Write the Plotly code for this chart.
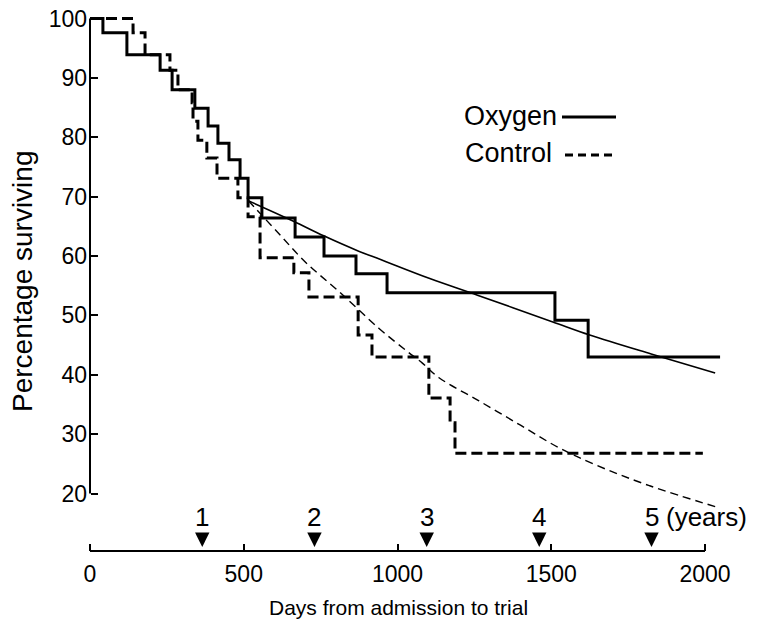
import plotly.graph_objects as go

# ---------------- data ----------------
oxygen_days = [0, 42, 120, 228, 267, 341, 384, 416, 452, 488, 514, 559, 667, 761, 865, 966, 1512, 1620, 2049]
oxygen_pct = [100, 97.6, 93.9, 91.3, 88.0, 84.9, 81.9, 79.0, 76.2, 73.1, 69.8, 66.4, 63.2, 60.0, 57.0, 53.8, 49.2, 43.0, 43.0]

control_days = [0, 140, 179, 260, 286, 332, 335, 351, 380, 413, 481, 514, 553, 663, 712, 872, 917, 1102, 1171, 1187, 1993]
control_pct = [100, 97.6, 93.9, 91.3, 88.0, 85.8, 82.7, 79.5, 76.5, 73.1, 69.8, 66.6, 59.7, 57.2, 53.1, 46.7, 43.0, 36.1, 31.9, 26.8, 26.8]

oxygen_fit_days = [515, 660, 760, 870, 945, 1105, 1260, 1505, 1625, 1825, 2033]
oxygen_fit_pct = [69.3, 65.9, 63.4, 60.9, 59.4, 56.2, 53.4, 48.9, 46.7, 43.5, 40.3]

control_fit_days = [515, 610, 700, 810, 940, 1030, 1080, 1135, 1265, 1400, 1525, 1645, 1820, 2033]
control_fit_pct = [69.3, 64.0, 59.0, 54.0, 47.8, 44.0, 42.0, 39.5, 35.6, 31.5, 27.7, 24.8, 21.3, 17.8]

x_ticks = [0, 500, 1000, 1500, 2000]
y_ticks = [20, 30, 40, 50, 60, 70, 80, 90, 100]
year_days = [365, 730, 1095, 1461, 1826]
year_labels = ["1", "2", "3", "4", "5"]

# ---------------- layout geometry (reference pixel coords) ----------------
W_REF, H_REF = 772, 628
L, R, T, B = 80, 745, 10, 560
PX_PER_DAY = 0.3075
PX_PER_PCT = 5.9375
X0_PX = 90          # pixel of day 0
Y100_PX = 18.5      # pixel of 100 %
AXIS_Y_PX = 551     # pixel of the separate x axis line

xmin = -(X0_PX - L) / PX_PER_DAY
xmax = (R - X0_PX) / PX_PER_DAY
ymax = 100 + (Y100_PX - T) / PX_PER_PCT
ymin = 100 - (B - Y100_PX) / PX_PER_PCT
axis_y_val = 100 - (AXIS_Y_PX - Y100_PX) / PX_PER_PCT


def px(xp):
    return (xp - L) / (R - L)


def py(yp):
    return (B - yp) / (B - T)


INK = "#000000"
FONT = "Liberation Sans"
FS_TICK = 23
FS_TITLE = 21
FS_YTITLE = 28
FS_LEG = 27
FS_YEAR = 26

fig = go.Figure()

fig.add_trace(go.Scatter(x=oxygen_days, y=oxygen_pct, mode="lines", line_shape="hv",
                         line=dict(color=INK, width=3), name="Oxygen", showlegend=False))
fig.add_trace(go.Scatter(x=control_days, y=control_pct, mode="lines", line_shape="hv",
                         line=dict(color=INK, width=3, dash="11px,5px"), name="Control", showlegend=False))
fig.add_trace(go.Scatter(x=oxygen_fit_days, y=oxygen_fit_pct, mode="lines", line_shape="spline",
                         line=dict(color=INK, width=1.6), showlegend=False))
fig.add_trace(go.Scatter(x=control_fit_days, y=control_fit_pct, mode="lines", line_shape="spline",
                         line=dict(color=INK, width=1.4, dash="8px,5px"), showlegend=False))

shapes = [
    dict(type="line", xref="x", yref="y", x0=0, x1=0, y0=20, y1=100, line=dict(color=INK, width=2)),
    dict(type="line", xref="x", yref="y", x0=0, x1=2000, y0=axis_y_val, y1=axis_y_val, line=dict(color=INK, width=2)),
    # legend samples
    dict(type="line", xref="paper", yref="paper", x0=px(562), x1=px(616), y0=py(117), y1=py(117),
         line=dict(color=INK, width=3)),
    dict(type="line", xref="paper", yref="paper", x0=px(565), x1=px(616), y0=py(155), y1=py(155),
         line=dict(color=INK, width=3, dash="8px,5px")),
]

annotations = [
    dict(text="Oxygen", xref="paper", yref="paper", x=px(462), y=py(116), xanchor="left", yanchor="middle",
         showarrow=False, font=dict(family=FONT, size=FS_LEG, color=INK)),
    dict(text="Control", xref="paper", yref="paper", x=px(463), y=py(153), xanchor="left", yanchor="middle",
         showarrow=False, font=dict(family=FONT, size=FS_LEG, color=INK)),
    dict(text="Percentage surviving", xref="paper", yref="paper", x=px(22), y=py(282), textangle=-90,
         xanchor="center", yanchor="middle", showarrow=False, font=dict(family=FONT, size=FS_YTITLE, color=INK)),
    dict(text="Days from admission to trial", xref="paper", yref="paper", x=px(398), y=py(607),
         xanchor="center", yanchor="middle", showarrow=False, font=dict(family=FONT, size=FS_TITLE, color=INK)),
]
tip_val = 100 - (547 - Y100_PX) / PX_PER_PCT
for d, lab in zip(year_days, year_labels):
    annotations.append(dict(text=lab, x=d, y=tip_val, xref="x", yref="y", showarrow=True, ax=0, ay=-30,
                            arrowhead=2, arrowsize=1.8, arrowwidth=1.6, arrowcolor=INK, standoff=0,
                            font=dict(family=FONT, size=FS_YEAR, color=INK)))
annotations.append(dict(text="(years)", x=year_days[-1], y=tip_val, xref="x", yref="y", showarrow=False,
                        xanchor="left", yanchor="middle", xshift=12, yshift=30,
                        font=dict(family=FONT, size=FS_YEAR, color=INK)))

fig.update_layout(
    width=W_REF, height=H_REF,
    margin=dict(l=L, r=W_REF - R, t=T, b=H_REF - B, autoexpand=False),
    paper_bgcolor="white", plot_bgcolor="white",
    font=dict(family=FONT, size=FS_TICK, color=INK),
    showlegend=False,
    shapes=shapes, annotations=annotations,
    xaxis=dict(range=[xmin, xmax], anchor="free", position=py(AXIS_Y_PX), tickvals=x_ticks,
               ticks="inside", ticklen=7, tickwidth=2, tickcolor=INK, showline=False, showgrid=False,
               zeroline=False, ticklabelstandoff=7, automargin=False, ticklabeloverflow="allow",
               tickfont=dict(family=FONT, size=FS_TICK, color=INK)),
    yaxis=dict(range=[ymin, ymax], anchor="free", position=px(X0_PX), tickvals=y_ticks,
               ticks="inside", ticklen=7, tickwidth=2, tickcolor=INK, showline=False, showgrid=False,
               zeroline=False, ticklabelstandoff=3, automargin=False, ticklabeloverflow="allow",
               tickfont=dict(family=FONT, size=FS_TICK, color=INK)),
)

# remove the default 8px page margin so the figure sits at the window origin
fig.write_html("out.html", config={"displayModeBar": False},
               post_script="document.body.style.margin='0';document.body.style.overflow='hidden';")
